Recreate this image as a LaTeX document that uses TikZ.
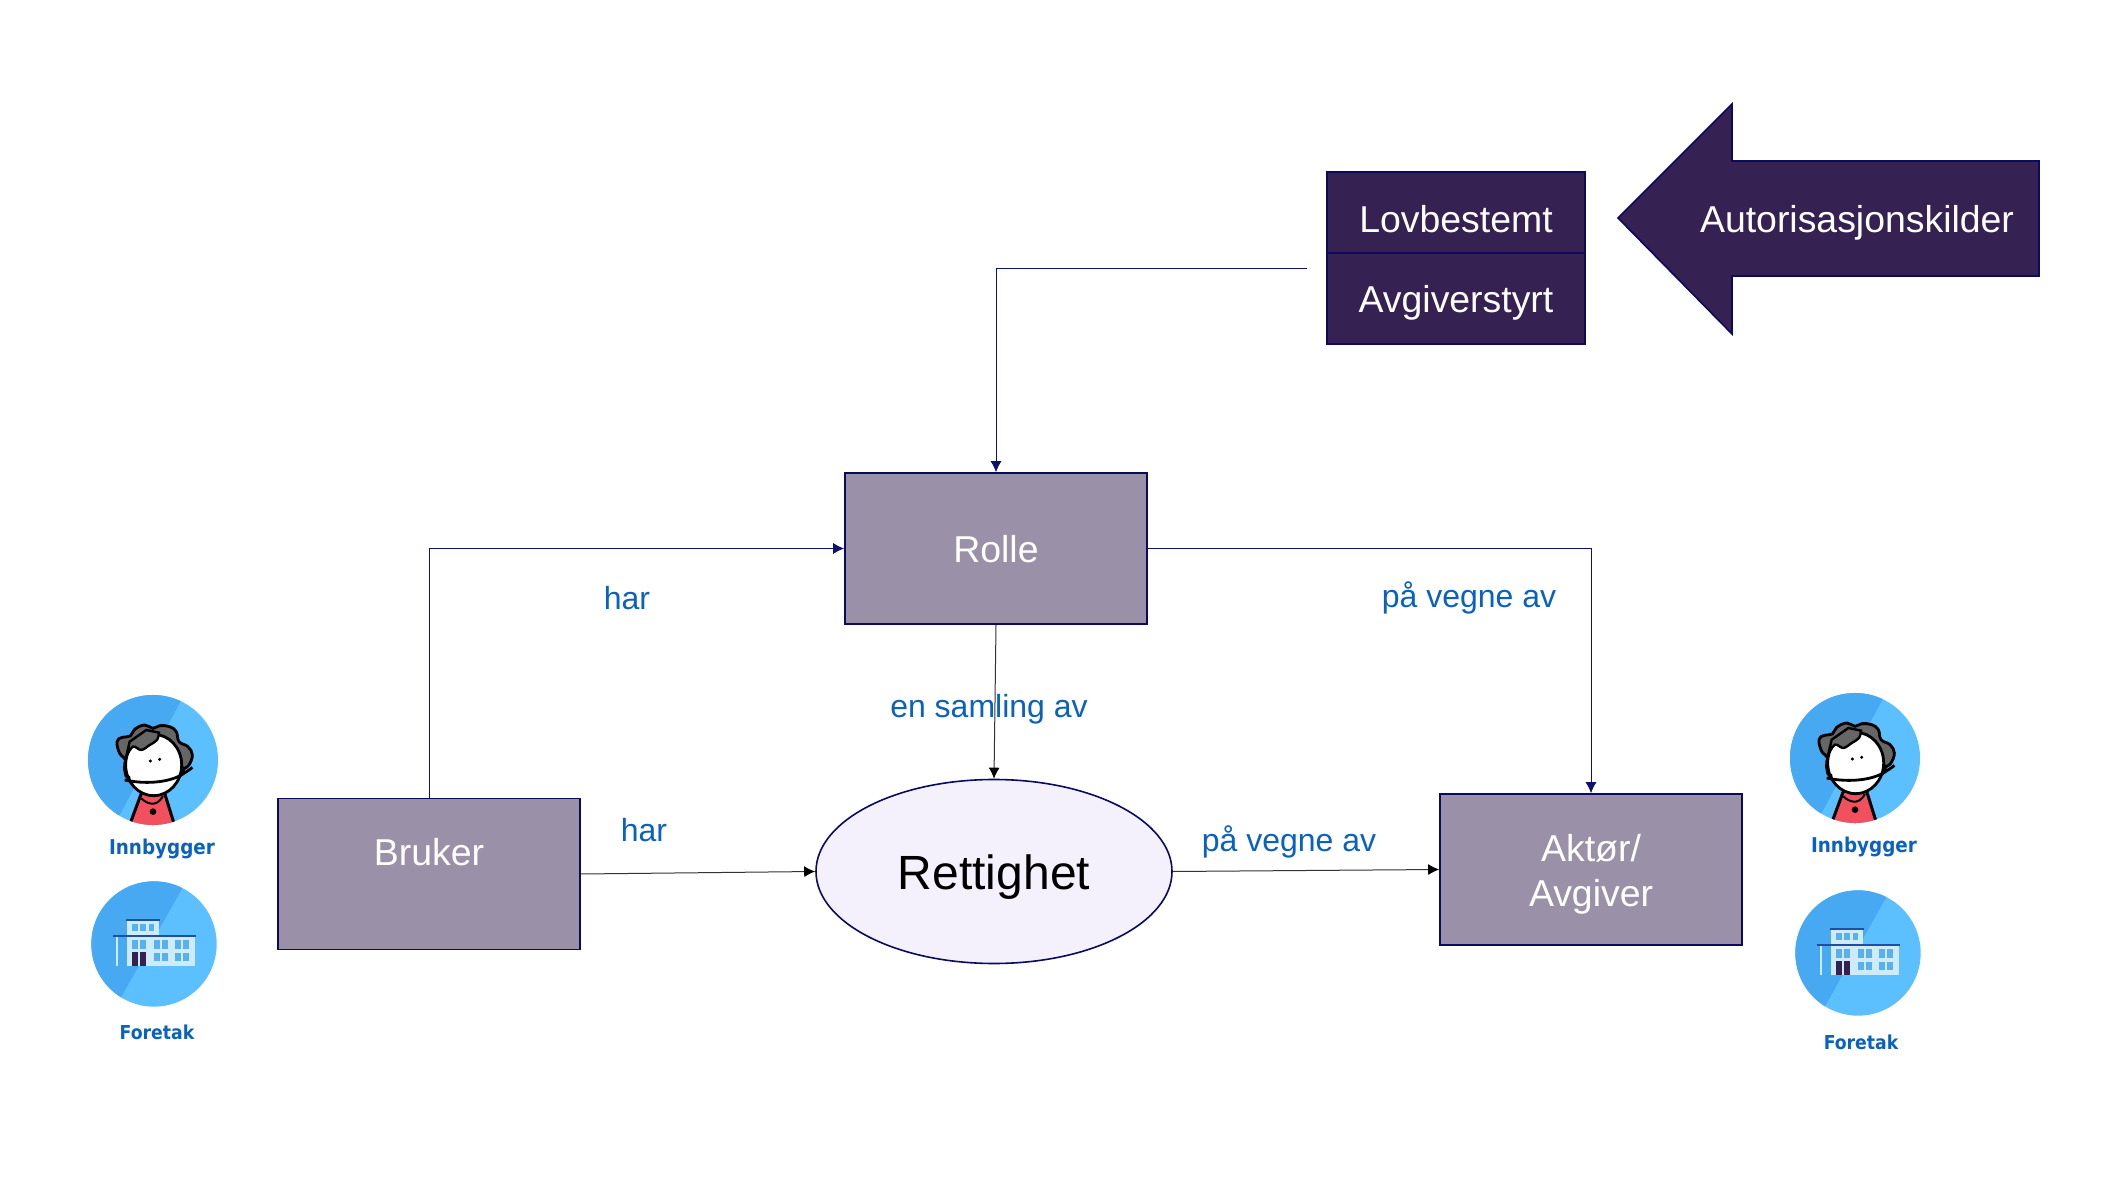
\documentclass[tikz,border=0pt]{standalone}
\usepackage{fontspec}
\setmainfont{Liberation Sans}
\newfontfamily\iconfont{DejaVu Sans Condensed}
\usetikzlibrary{arrows.meta,shapes.geometric}
\definecolor{boxgrey}{HTML}{9A90A8}
\definecolor{darkpurple}{HTML}{352152}
\definecolor{edgeblue}{HTML}{0A0A5E}
\definecolor{linkblue}{HTML}{10106E}
\definecolor{labelblue}{HTML}{0A62BE}
\definecolor{ellipsefill}{HTML}{F4F1FC}
\definecolor{discdark}{HTML}{47A9F2}
\definecolor{disclight}{HTML}{5CC0FF}
\definecolor{wall}{HTML}{CDEBFB}
\definecolor{glass}{HTML}{5AB0EA}
\definecolor{roofblue}{HTML}{1F4F9E}
\definecolor{shirt}{HTML}{F2505F}
\definecolor{hairgrey}{HTML}{666666}
\tikzset{
  x=0.5pt,y=-0.5pt,
  greybox/.style={draw=edgeblue,line width=0.8pt,fill=boxgrey,minimum width=151pt,minimum height=75.5pt,inner sep=0pt},
  darkbox/.style={draw=edgeblue,line width=0.8pt,fill=darkpurple,minimum width=129pt,minimum height=45.5pt,inner sep=0pt},
  whitetext/.style={text=white,font=\fontsize{18.7}{22.5}\selectfont,align=center,inner sep=0pt},
  relabel/.style={text=labelblue,font=\fontsize{16}{19}\selectfont,inner sep=0pt},
  iconlabel/.style={text=labelblue,font=\iconfont\bfseries\fontsize{10.2}{12}\selectfont,inner sep=0pt},
  navylink/.style={draw=linkblue,line width=0.45pt,-{Latex[length=5.5pt,width=5.5pt]}},
  blacklink/.style={draw=black!80,line width=0.5pt,-{Latex[length=5.5pt,width=5.5pt,black]}},
  pics/person/.style={code={
    \begin{scope}[x=0.1667pt,y=-0.1667pt]
      \fill[disclight] (0,0) circle[radius=195];
      \begin{scope}
        \clip (0,0) circle[radius=195];
        \fill[discdark] (85,-180) -- (-100,165) -- (-260,165) -- (-260,-240) -- (85,-240) -- cycle;
        \filldraw[fill=shirt,draw=black,line width=1.5pt] (-35,100) -- (35,100) -- (66,200) -- (-72,200) -- cycle;
      \end{scope}
      \filldraw[fill=hairgrey,draw=black,line width=1.4pt] plot[smooth cycle,tension=0.7] coordinates {(-108,-55) (-92,-68) (-68,-72) (-55,-92) (-25,-105) (0,-95) (20,-103) (50,-100) (70,-85) (78,-55) (105,-40) (118,-15) (108,15) (92,28) (60,60) (-60,60) (-85,30) (-82,0) (-100,-20)};
      \filldraw[fill=white,draw=black,line width=1.4pt] (2,15) ellipse[x radius=84,y radius=92];
      \filldraw[fill=hairgrey,draw=black,line width=1.2pt] plot[smooth,tension=0.6] coordinates {(-80,-12) (-60,-40) (-35,-30) (-10,-45) (12,-60) (18,-82)} -- (-20,-90) -- (-70,-55) -- cycle;
      \fill (-8,3) circle[radius=5];
      \fill (20,-2) circle[radius=5];
      \draw[line width=1.4pt] (-85,60) .. controls (-30,72) and (40,70) .. (85,45) .. controls (100,35) and (110,30) .. (118,22);
      \draw[line width=1.1pt] (-72,48) -- (-70,62);
      \draw[line width=1.1pt] (92,20) .. controls (86,30) and (90,38) .. (98,36);
      \draw[line width=1pt] (-35,115) .. controls (-20,130) and (10,145) .. (30,108);
      \fill (0,155) circle[radius=10];
    \end{scope}}},
  pics/building/.style={code={
    \begin{scope}[x=0.1667pt,y=-0.1667pt,shift={(-250,-218)}]
      \fill[disclight] (250,218) circle[radius=188];
      \begin{scope}
        \clip (250,218) circle[radius=188];
        \fill[discdark] (335,50) -- (150,380) -- (0,380) -- (0,0) -- (335,0) -- cycle;
      \end{scope}
      \fill[wall] (170,148) rectangle (265,192);
      \fill[wall] (170,197) rectangle (372,283);
      \fill[wall] (135,197) rectangle (141,283);
      \fill[roofblue] (165,143) rectangle (268,149);
      \fill[roofblue] (127,191) rectangle (375,197);
      \foreach \xa in {185,209,234} \fill[glass] (\xa,157) rectangle ++(17,23);
      \foreach \xa in {185,209,250,275,313,338} \fill[glass] (\xa,207) rectangle ++(17,25);
      \foreach \xa in {250,275,313,338} \fill[glass] (\xa,245) rectangle ++(17,25);
      \fill[darkpurple] (185,243) rectangle (203,283);
      \fill[darkpurple] (207,243) rectangle (225,283);
    \end{scope}}},
}
\begin{document}
\begin{tikzpicture}
\useasboundingbox[fill=white] (0,0) rectangle (2109,1186);

% source boxes
\node[darkbox,minimum height=40.5pt] (lov) at (1456,212.5) {};
\node[darkbox] (avg) at (1456,298.5) {};
\node[whitetext] (lovtext) at (1456,219) {Lovbestemt};
\node[whitetext] (avgtext) at (1456,303) {Avgiverstyrt};

% big arrow
\filldraw[draw=edgeblue,line width=0.8pt,fill=darkpurple]
  (1618,218) -- (1732,104) -- (1732,161) -- (2039,161) -- (2039,276) -- (1732,276) -- (1732,334) -- cycle;
\node[whitetext] (kilder) at (1857,223) {Autorisasjonskilder};

% main nodes
\node[greybox] (rolle) at (996,548.5) {};
\node[whitetext] (rolletext) at (996,549) {Rolle};
\node[greybox] (bruker) at (429,874) {};
\node[whitetext] (brukertext) at (429,852) {Bruker};
\node[greybox] (aktor) at (1591,869.5) {};
\node[whitetext,text width=150pt] (aktortext) at (1591,874) {Aktør/\\Avgiver};
\node[draw=edgeblue,line width=0.8pt,fill=ellipsefill,ellipse,minimum width=178pt,minimum height=92pt,inner sep=0pt] (rett) at (994,871.5) {};
\node[text=black,inner sep=0pt,font=\fontsize{24}{28}\selectfont] (retttext) at (994,877) {Rettighet};

% connectors
\coordinate (src) at (1307,268);
\draw[navylink] (src) -| (rolle.north);
\draw[navylink] (bruker.north) |- (rolle.west);
\draw[navylink] (rolle.east) -| (aktor.north);
\draw[blacklink] (rolle.south) -- (rett.north);
\draw[blacklink] (bruker.east) -- (rett.west);
\draw[blacklink] (rett.east) -- (aktor.west);

% connector labels
\node[relabel] (l1) at (627,598) {har};
\node[relabel] (l2) at (1469,598) {på vegne av};
\node[relabel] (l3) at (989,709) {en samling av};
\node[relabel] (l4) at (644,830) {har};
\node[relabel] (l5) at (1289,842) {på vegne av};

% icons
\pic at (153,760) {person};
\pic at (154,944) {building};
\pic at (1855,758) {person};
\pic at (1858,953) {building};
\node[iconlabel] (i1) at (162,849) {Innbygger};
\node[iconlabel,font=\iconfont\bfseries\fontsize{9.6}{12}\selectfont] (i2) at (157,1032) {Foretak};
\node[iconlabel] (i3) at (1864,847) {Innbygger};
\node[iconlabel,font=\iconfont\bfseries\fontsize{9.6}{12}\selectfont] (i4) at (1861,1042) {Foretak};
\end{tikzpicture}
\end{document}
